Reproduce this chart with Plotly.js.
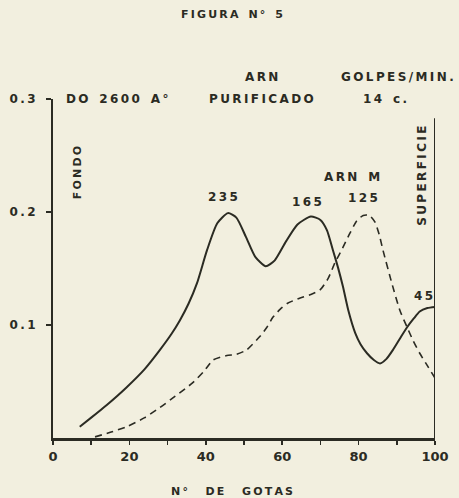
<!DOCTYPE html>
<html><head><meta charset="utf-8">
<script src="https://cdn.plot.ly/plotly-3.0.1.min.js"></script>
<style>html,body{margin:0;padding:0;background:#f2efdf;}#chart{width:459px;height:498px;}</style>
</head><body><div id="chart"></div>
<script>
// Solid curve: ARN purificado (absorbance at 2600 Å vs number of drops)
const solidX = [7, 10, 14, 19.3, 24, 28, 31, 33.2, 35.5, 37.7, 40.3, 43, 45.8, 48, 50.5, 53, 55.7, 58, 61, 64, 67.5, 70, 71.7, 73.3, 74.6, 75.9, 77.3, 79.1, 80.5, 82.2, 84, 85.6, 87.3, 89, 91, 92.7, 94.5, 96, 98, 100];
const solidY = [0.010, 0.018, 0.029, 0.045, 0.061, 0.078, 0.092, 0.104, 0.119, 0.137, 0.166, 0.190, 0.199, 0.195, 0.178, 0.160, 0.152, 0.157, 0.174, 0.189, 0.196, 0.193, 0.184, 0.166, 0.151, 0.134, 0.113, 0.093, 0.083, 0.075, 0.069, 0.066, 0.070, 0.078, 0.089, 0.098, 0.106, 0.112, 0.115, 0.116];
// Dashed curve: ARN M
const dashX = [11, 15, 19.3, 24, 28, 32, 36.6, 39.5, 41.9, 45.5, 48, 50.7, 54.2, 56, 57.6, 59.5, 61.3, 64.7, 67.5, 69.9, 72, 73.8, 75.8, 77.7, 79.5, 81.2, 82.8, 84.3, 85.4, 86.4, 88.7, 90.8, 92.7, 94.3, 96, 98, 100];
const dashY = [0.001, 0.005, 0.010, 0.018, 0.027, 0.037, 0.049, 0.059, 0.069, 0.073, 0.074, 0.078, 0.090, 0.098, 0.107, 0.114, 0.119, 0.124, 0.127, 0.131, 0.141, 0.155, 0.168, 0.181, 0.192, 0.197, 0.197, 0.191, 0.180, 0.166, 0.137, 0.113, 0.098, 0.086, 0.075, 0.064, 0.053];
// Axis ticks
const xTicks = [0, 20, 40, 60, 80, 100];
const yTicks = [0.1, 0.2, 0.3];
const yTickLabels = ['0.1', '0.2', '0.3'];
// Peak labels
const peakLabels = ['235', '165', '125', '45'];
const peakX = [44.5, 66.5, 81.2, 97];
const peakY = [0.200, 0.196, 0.199, 0.116];

const ink = '#2b2b23';
const F = 'DejaVu Sans, Arial, sans-serif';
const fnt = (s) => ({family: F, size: s, color: ink, weight: 700});
const sp = (t) => t.split('').map(c => c === ' ' ? '\u2002' : c).join('\u2009');

const traces = [
  {x: solidX, y: solidY, mode: 'lines', line: {color: ink, width: 2, shape: 'spline', smoothing: 0.6}, hoverinfo: 'skip'},
  {x: dashX, y: dashY, mode: 'lines', line: {color: ink, width: 1.6, dash: '7px,5px', shape: 'spline', smoothing: 0.6}, hoverinfo: 'skip'}
];

const mid = {xanchor: 'center', yanchor: 'middle', showarrow: false};
const annotations = [
  Object.assign({text: sp('FIGURA N° 5'), xref: 'paper', yref: 'paper', x: 0.468, y: 1.248, font: fnt(11)}, mid),
  Object.assign({text: sp('DO 2600 A°'), xref: 'paper', yref: 'y', x: 0.03, y: 0.3, font: fnt(12)}, mid, {xanchor: 'left'}),
  Object.assign({text: sp('ARN'), xref: 'paper', yref: 'paper', x: 0.547, y: 1.065, font: fnt(12)}, mid),
  Object.assign({text: sp('PURIFICADO'), xref: 'paper', yref: 'y', x: 0.547, y: 0.3, font: fnt(12)}, mid),
  Object.assign({text: sp('GOLPES/MIN.'), xref: 'paper', yref: 'paper', x: 0.902, y: 1.065, font: fnt(12)}, mid),
  Object.assign({text: sp('14 c.'), xref: 'paper', yref: 'y', x: 0.869, y: 0.3, font: fnt(12)}, mid),
  Object.assign({text: sp('FONDO'), xref: 'x', yref: 'y', x: 6.5, y: 0.235, textangle: -90, font: fnt(11)}, mid),
  Object.assign({text: sp('SUPERFICIE'), xref: 'x', yref: 'y', x: 96.6, y: 0.232, textangle: -90, font: fnt(12)}, mid),
  Object.assign({text: sp('ARN M'), xref: 'x', yref: 'y', x: 78.3, y: 0.231, font: fnt(12)}, mid)
];
for (let i = 0; i < peakLabels.length; i++) {
  annotations.push({text: sp(peakLabels[i]), x: peakX[i], y: peakY[i], xref: 'x', yref: 'y', xanchor: 'center', yanchor: 'bottom', yshift: i === 3 ? 2 : 6, showarrow: false, font: fnt(12)});
}
annotations.push(Object.assign({text: sp('N°  DE  GOTAS'), xref: 'paper', yref: 'paper', x: 0.468, y: -0.159, font: fnt(11)}, mid));

const layout = {
  width: 459, height: 498,
  margin: {l: 53, r: 24, t: 99, b: 60},
  paper_bgcolor: '#f2efdf', plot_bgcolor: 'rgba(0,0,0,0)',
  showlegend: false,
  xaxis: {range: [0, 100], tickvals: xTicks, ticktext: xTicks.map(String), showgrid: false, zeroline: false,
          showline: true, linecolor: ink, linewidth: 3, ticks: 'outside', ticklen: 4, tickwidth: 1.5, tickcolor: ink,
          tickfont: fnt(13), minor: {dtick: 10, ticks: 'outside', ticklen: 4, tickcolor: ink, tickwidth: 1.5}},
  yaxis: {range: [0, 0.3], tickvals: yTicks, ticktext: yTickLabels.map(sp), showgrid: false, zeroline: false,
          showline: true, linecolor: ink, linewidth: 2, ticks: 'outside', ticklen: 5, tickwidth: 1.5, tickcolor: ink,
          ticklabelstandoff: 8, tickfont: fnt(12)},
  shapes: [
    {type: 'line', xref: 'x', yref: 'y', x0: 100, x1: 100, y0: 0, y1: 0.283, line: {color: ink, width: 2}}
  ],
  annotations: annotations
};
Plotly.newPlot('chart', traces, layout, {staticPlot: true, displayModeBar: false});
</script>
</body></html>
